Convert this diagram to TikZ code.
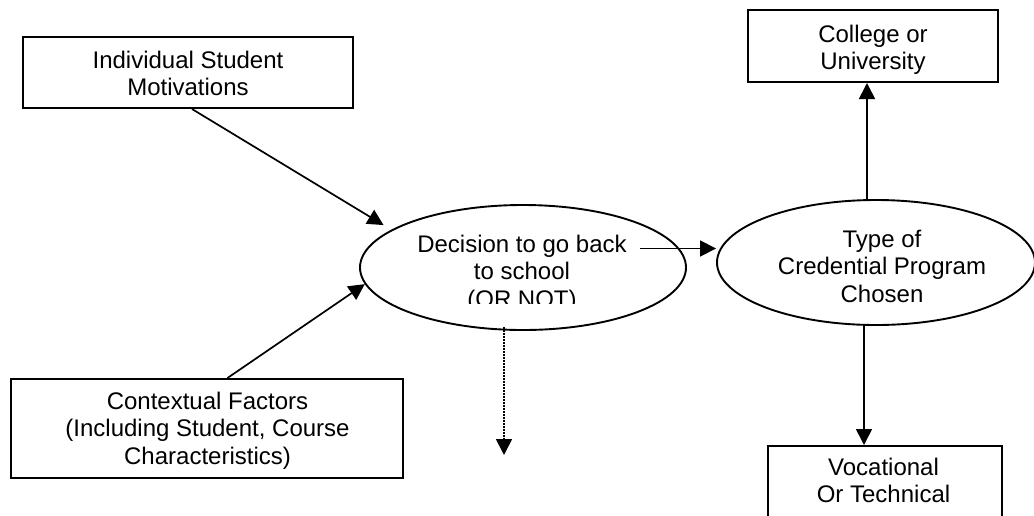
\documentclass[tikz,border=0pt]{standalone}
\usepackage{fontspec}
\setmainfont{Liberation Sans}
\usetikzlibrary{arrows.meta,calc,shapes.geometric}
\begin{document}
\begin{tikzpicture}[x=1pt,y=-1pt,
  box/.style={draw,line width=2pt,inner sep=0pt,rectangle},
  oval/.style={draw,line width=1.9pt,ellipse,inner sep=0pt},
  lbl/.style={inner sep=0pt,anchor=base,font=\fontsize{24}{27.5}\selectfont},
  arr/.style={line width=1.7pt,-{Triangle[length=16pt,width=16pt]}},
  dotarr/.style={arr,line width=1.8pt,dash pattern=on 1.6pt off 1.4pt}]
\useasboundingbox (0,0) rectangle (1034,515);
% boxes
\node[box,minimum width=330pt,minimum height=71pt] (ind) at (188,72.5) {};
\node[box,minimum width=392pt,minimum height=99pt] (ctx) at (207,428.5) {};
\node[box,minimum width=250pt,minimum height=72pt] (col) at (873,46) {};
\node[box,minimum width=234pt,minimum height=100pt] (voc) at (885,496) {};
% ellipses
\node[oval,minimum width=326pt,minimum height=125pt] (dec) at (523,267.5) {};
\node[oval,minimum width=318pt,minimum height=125pt] (typ) at (876,262.5) {};
% labels
\node[lbl] (indt) at (188,68) {\begin{tabular}[t]{@{}c@{}}Individual Student\\Motivations\end{tabular}};
\node[lbl] (ctxt) at (207.5,409) {\begin{tabular}[t]{@{}c@{}}Contextual Factors\\(Including Student, Course\\Characteristics)\end{tabular}};
\node[lbl] (colt) at (873,42) {\begin{tabular}[t]{@{}c@{}}College or\\University\end{tabular}};
\node[lbl] (voct) at (883.5,475) {\begin{tabular}[t]{@{}c@{}}Vocational\\Or Technical\end{tabular}};
\node[lbl] (typt) at (882,247) {\begin{tabular}[t]{@{}c@{}}Type of\\Credential Program\\Chosen\end{tabular}};
\begin{scope}
\clip (380,200) rectangle (660,303);
\node[lbl] (dect) at (522,252) {\begin{tabular}[t]{@{}c@{}}Decision to go back\\to school\\(OR NOT)\end{tabular}};
\end{scope}
% connectors
\draw[arr,shorten >=9pt] ($(ind.south west)!0.512!(ind.south east)$) -- (dec.164.5);
\draw[arr] ($(ctx.north west)!0.552!(ctx.north east)$) -- (dec.186.5);
\coordinate (ds) at ($(dec.center)+(117,-19)$);
\draw[arr] (ds) -- (ds -| typ.west);
\coordinate (us) at ($(typ.north)+(-9,0)$);
\draw[arr] (us) -- (us |- col.south);
\coordinate (ls) at ($(typ.south)+(-12,0)$);
\draw[arr] (ls) -- (ls |- voc.north);
\coordinate (xs) at ($(dec.south)+(-19,-4)$);
\coordinate (xe) at (504,455);
\draw[dotarr] (xs) -- (xe);
\end{tikzpicture}
\end{document}
